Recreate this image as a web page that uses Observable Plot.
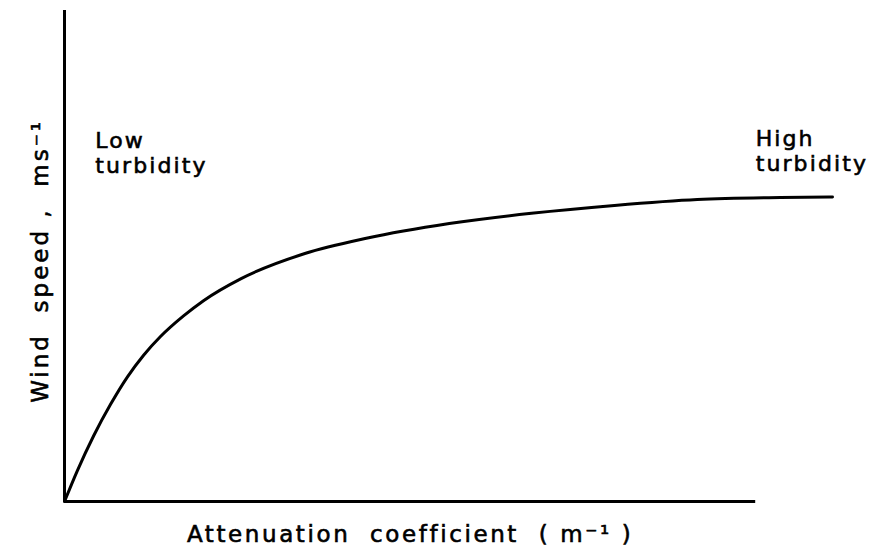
<!DOCTYPE html>
<html>
<head>
<meta charset="utf-8">
<script src="https://cdn.jsdelivr.net/npm/d3@7"></script>
<script src="https://cdn.jsdelivr.net/npm/@observablehq/plot@0.6"></script>
<style>
  body { margin: 0; background: #fff; }
  svg text { font-family: "DejaVu Sans", sans-serif; fill: #000; stroke: #000; stroke-width: 0.6px; }
</style>
</head>
<body>
<div id="chart"></div>
<script>
// Attenuation coefficient (relative units) and the wind speed needed to mix the water column
const attenuation = [0, 1.65, 3.8, 6.0, 8.2, 10.3, 12.5, 15.5, 18.1, 23.0, 31.3, 39.3, 50.1, 60.8, 71.6, 82.4, 93.2, 100];
const windSpeed   = [0, 6.2, 13.4, 19.8, 25.4, 29.8, 33.6, 37.8, 40.9, 45.4, 50.5, 53.6, 56.6, 58.7, 60.3, 61.5, 61.9, 62.0];

// Extent of the two axis lines
const xAxisEnd = 90;
const yAxisEnd = 100;

// Annotations at each end of the curve
const noteLabels = ["Low\nturbidity", "High\nturbidity"];
const noteX = [4, 90];
const noteY = [75.6, 76];

const xTitle = "Attenuation  coefficient  ( m\u207B\u00B9 )";
const yTitle = "Wind  speed ,  ms\u207B\u00B9";

const curve = attenuation.map((x, i) => ({x, y: windSpeed[i]}));
const notes = noteLabels.map((label, i) => ({label, x: noteX[i], y: noteY[i]}));

const chart = Plot.plot({
  width: 873,
  height: 555,
  marginLeft: 64,
  marginRight: 41,
  marginTop: 10,
  marginBottom: 54,
  x: {domain: [0, 100], axis: null},
  y: {domain: [0, 100], axis: null},
  marks: [
    Plot.ruleX([0], {y1: 0, y2: yAxisEnd, stroke: "#000", strokeWidth: 3}),
    Plot.ruleY([0], {x1: 0, x2: xAxisEnd, stroke: "#000", strokeWidth: 3}),
    Plot.line(curve, {x: "x", y: "y", curve: "monotone-x", stroke: "#000", strokeWidth: 3}),
    Plot.text(notes, {x: "x", y: "y", text: "label", textAnchor: "start", lineAnchor: "top",
      lineHeight: 1.14, fontSize: 22}),
    Plot.text([xTitle], {x: xAxisEnd / 2, frameAnchor: "bottom", lineAnchor: "top", dy: 24,
      fontSize: 23}),
    Plot.text([yTitle], {y: 49, frameAnchor: "left", textAnchor: "middle", dx: -24, rotate: -90,
      fontSize: 23})
  ]
});

// Wide, typewriter-like letter spacing for the labels
const texts = d3.select(chart).selectAll("text");
texts.filter(function () { return this.textContent.includes("turbidity"); }).attr("letter-spacing", "2.1px");
texts.filter(function () { return this.textContent === xTitle; }).attr("letter-spacing", "2.6px");
texts.filter(function () { return this.textContent === yTitle; }).attr("letter-spacing", "3px");

document.getElementById("chart").appendChild(chart);
</script>
</body>
</html>
